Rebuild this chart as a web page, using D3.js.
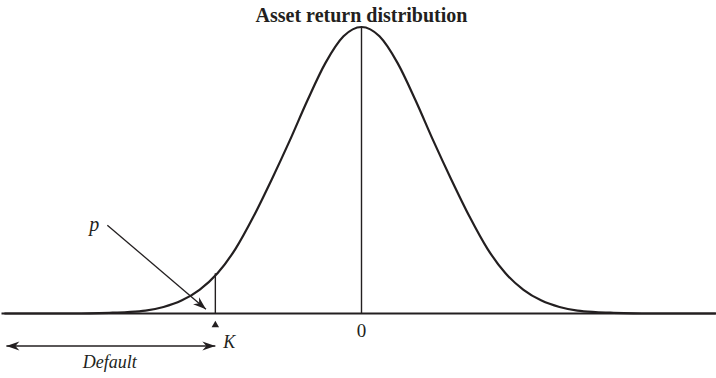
<!DOCTYPE html>
<html>
<head>
<meta charset="utf-8">
<script src="https://cdn.jsdelivr.net/npm/d3@7"></script>
<style>
  body { margin: 0; background: #fff; }
  svg { display: block; }
</style>
</head>
<body>
<div id="wrapper"></div>
<script>
// data (x in std devs, y = density)
const chartTitle = "Asset return distribution"
const curveX = [-5, -4.5, -4, -3.5, -3.25, -3, -2.75, -2.5, -2.25, -2, -1.75, -1.5, -1.25, -1, -0.75, -0.5, -0.25, 0,
                0.25, 0.5, 0.75, 1, 1.25, 1.5, 1.75, 2, 2.25, 2.5, 2.75, 3, 3.25, 3.5, 4, 4.5, 5]
const curveY = [0, 0, 0, 0.001, 0.002, 0.004, 0.009, 0.018, 0.033, 0.056, 0.09, 0.135, 0.186, 0.24, 0.297, 0.349, 0.386, 0.399,
                0.386, 0.349, 0.297, 0.24, 0.186, 0.135, 0.09, 0.056, 0.033, 0.018, 0.009, 0.004, 0.002, 0.001, 0, 0, 0]
const axisExtent = [-4.96, 4.92]
const tickValues = [0]
const tickLabels = ["0"]
const kValue = -2.03
const kLabel = "K"
const pLabel = "p"
const pLabelAt = [-3.78, 0.115]
const pArrowFrom = [-3.53, 0.123]
const pArrowTo = [-2.16, 0.006]
const defaultLabel = "Default"

const ink = "#231f20"
const width = 716
const height = 378

const svg = d3.select("#wrapper")
  .append("svg")
  .attr("width", width)
  .attr("height", height)

// 72px per std dev, centre at 361.5
const xScale = d3.scaleLinear()
  .domain([-5, 5])
  .range([1.5, 721.5])

const yScale = d3.scaleLinear()
  .domain([0, 0.399])
  .range([313.5, 27])

const base = yScale(0)

// arrow marker
const defs = svg.append("defs")
defs.append("marker")
  .attr("id", "head")
  .attr("markerUnits", "userSpaceOnUse")
  .attr("viewBox", "-14 -6 16 12")
  .attr("markerWidth", 16)
  .attr("markerHeight", 12)
  .attr("refX", 0)
  .attr("refY", 0)
  .attr("orient", "auto-start-reverse")
  .append("path")
  .attr("d", "M0,0 L-13,-4.6 L-9,0 L-13,4.6 Z")
  .attr("fill", ink)

// title
svg.append("text")
  .attr("x", xScale(0))
  .attr("y", 21.5)
  .attr("text-anchor", "middle")
  .style("font-family", "'Liberation Serif', serif")
  .style("font-weight", "bold")
  .style("font-size", "20px")
  .attr("fill", ink)
  .text(chartTitle)

// baseline
svg.append("line")
  .attr("x1", xScale(axisExtent[0]))
  .attr("x2", xScale(axisExtent[1]))
  .attr("y1", base)
  .attr("y2", base)
  .attr("stroke", ink)
  .attr("stroke-width", 2.2)

// density curve
const points = curveX.map((x, i) => [x, curveY[i]])
const lineGenerator = d3.line()
  .x(d => xScale(d[0]))
  .y(d => yScale(d[1]))
  .curve(d3.curveMonotoneX)

svg.append("path")
  .attr("d", lineGenerator(points.filter(d => d[0] >= axisExtent[0] - 0.1 && d[0] <= axisExtent[1] + 0.1)))
  .attr("fill", "none")
  .attr("stroke", ink)
  .attr("stroke-width", 2.2)

// vertical at mean
const peak = d3.max(curveY)
svg.append("line")
  .attr("x1", xScale(0)).attr("x2", xScale(0))
  .attr("y1", yScale(peak)).attr("y2", base)
  .attr("stroke", ink)
  .attr("stroke-width", 1.4)

// vertical at K
const kDensity = d3.scaleLinear().domain(curveX.slice(8, 10)).range(curveY.slice(8, 10))(kValue)
svg.append("line")
  .attr("x1", xScale(kValue)).attr("x2", xScale(kValue))
  .attr("y1", yScale(kDensity) - 2).attr("y2", base)
  .attr("stroke", ink)
  .attr("stroke-width", 1.4)

// tick labels
svg.selectAll(".tick-label")
  .data(tickValues)
  .join("text")
  .attr("class", "tick-label")
  .attr("x", d => xScale(d))
  .attr("y", base + 23.5)
  .attr("text-anchor", "middle")
  .style("font-family", "'Liberation Serif', serif")
  .style("font-size", "19px")
  .attr("fill", ink)
  .text((d, i) => tickLabels[i])

// K marker and label
svg.append("path")
  .attr("d", d3.symbol(d3.symbolTriangle, 24)())
  .attr("transform", `translate(${xScale(kValue)},${base + 11.5})`)
  .attr("fill", ink)

svg.append("text")
  .attr("x", xScale(kValue) + 8)
  .attr("y", base + 34.5)
  .style("font-family", "'Liberation Serif', serif")
  .style("font-style", "italic")
  .style("font-size", "18px")
  .attr("fill", ink)
  .text(kLabel)

// default double arrow
svg.append("line")
  .attr("x1", xScale(axisExtent[0]) + 2)
  .attr("x2", xScale(kValue))
  .attr("y1", base + 32.5)
  .attr("y2", base + 32.5)
  .attr("stroke", ink)
  .attr("stroke-width", 1.3)
  .attr("marker-start", "url(#head)")
  .attr("marker-end", "url(#head)")

svg.append("text")
  .attr("x", (xScale(axisExtent[0]) + xScale(kValue)) / 2)
  .attr("y", base + 54.5)
  .attr("text-anchor", "middle")
  .style("font-family", "'Liberation Serif', serif")
  .style("font-style", "italic")
  .style("font-size", "18px")
  .attr("fill", ink)
  .text(defaultLabel)

// p annotation
svg.append("text")
  .attr("x", xScale(pLabelAt[0]))
  .attr("y", yScale(pLabelAt[1]))
  .style("font-family", "'Liberation Serif', serif")
  .style("font-style", "italic")
  .style("font-size", "20px")
  .attr("fill", ink)
  .text(pLabel)

svg.append("line")
  .attr("x1", xScale(pArrowFrom[0]))
  .attr("y1", yScale(pArrowFrom[1]))
  .attr("x2", xScale(pArrowTo[0]))
  .attr("y2", yScale(pArrowTo[1]))
  .attr("stroke", ink)
  .attr("stroke-width", 1.3)
  .attr("marker-end", "url(#head)")
</script>
</body>
</html>
